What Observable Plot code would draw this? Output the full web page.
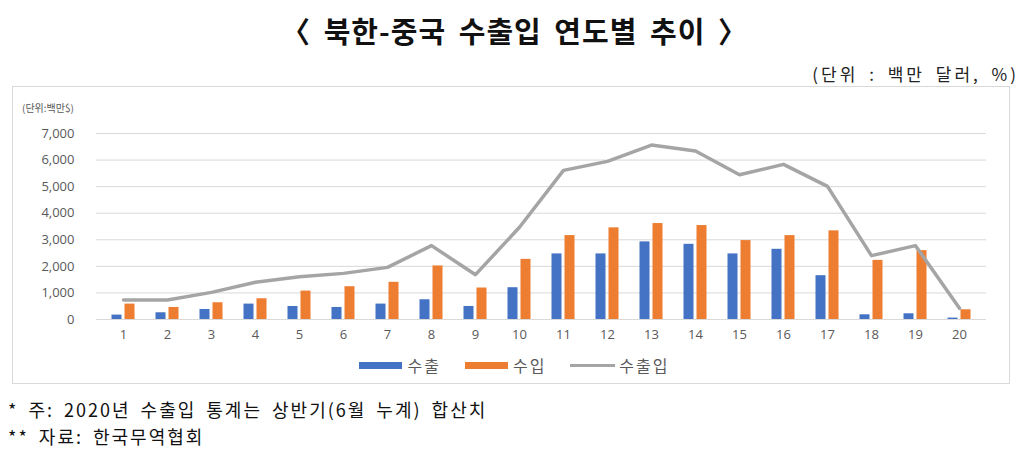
<!DOCTYPE html>
<html>
<head>
<meta charset="utf-8">
<script src="https://cdn.jsdelivr.net/npm/d3@7"></script>
<script src="https://cdn.jsdelivr.net/npm/@observablehq/plot@0.6"></script>
<style>
  html, body { margin: 0; padding: 0; background: #fff; }
  #wrap { position: relative; width: 1029px; height: 460px; overflow: hidden; font-family: "Noto Sans CJK KR", "Noto Sans", sans-serif; }
  #title { position: absolute; left: 0; width: 1029px; top: 9px; text-align: center; font-size: 29px; font-weight: 600; color: #111; letter-spacing: 1px; word-spacing: 5px; }
  #unit { position: absolute; right: 10px; top: 61px; font-size: 17px; color: #222; letter-spacing: 3px; word-spacing: 4px; }
  #box { position: absolute; left: 12px; top: 86px; width: 998px; height: 298px; border: 1px solid #d9d9d9; box-sizing: border-box; }
  #ylabel { position: absolute; left: 22px; top: 100px; font-size: 10px; color: #595959; }
  #chart { position: absolute; left: 0; top: 85px; }
  #legend { position: absolute; top: 353px; left: 0; width: 1029px; display: flex; justify-content: center; align-items: center; font-size: 16px; color: #595959; letter-spacing: 2px; }
  .item { display: flex; align-items: center; margin: 0 12px; }
  .sw { width: 43px; height: 7px; margin-right: 5px; }
  .ln { width: 45px; height: 3px; margin-right: 4px; }
  #notes { position: absolute; left: 8px; top: 396px; font-size: 18px; color: #111; line-height: 27px; letter-spacing: 2px; word-spacing: 4px; }
</style>
</head>
<body>
<div id="wrap">
  <div id="title">〈 북한-중국 수출입 연도별 추이 〉</div>
  <div id="unit">(단위 : 백만 달러, %)</div>
  <div id="box"></div>
  <div id="ylabel">(단위:백만$)</div>
  <div id="chart"></div>
  <div id="legend"></div>
  <div id="notes">* 주: 2020년 수출입 통계는 상반기(6월 누계) 합산치<br>** 자료: 한국무역협회</div>
</div>
<script>
const categories = ["1","2","3","4","5","6","7","8","9","10","11","12","13","14","15","16","17","18","19","20"];
const exportsV = [166, 253, 377, 580, 490, 453, 580, 743, 491, 1196, 2468, 2468, 2921, 2830, 2468, 2642, 1649, 177, 215, 53];
const importsV = [580, 453, 630, 780, 1070, 1234, 1400, 2015, 1185, 2264, 3158, 3449, 3611, 3536, 2970, 3158, 3336, 2226, 2592, 366];
const totalV = [732, 732, 1020, 1400, 1610, 1736, 1962, 2780, 1687, 3472, 5611, 5951, 6566, 6340, 5449, 5838, 5008, 2404, 2780, 420];
const yTicks = [0, 1000, 2000, 3000, 4000, 5000, 6000, 7000];
const seriesNames = ["수출", "수입", "수출입"];
const colors = ["#4472C4", "#ED7D31", "#A5A5A5"];

const rows = categories.map((c, i) => ({cat: c, exp: exportsV[i], imp: importsV[i], tot: totalV[i]}));

const chart = Plot.plot({
  width: 1029,
  height: 265,
  marginLeft: 96,
  marginRight: 43,
  marginTop: 48,
  marginBottom: 31,
  style: {fontFamily: "'Open Sans', 'Noto Sans', sans-serif", background: "transparent"},
  x: {type: "band", domain: categories, paddingInner: 0.775, paddingOuter: 0.3875},
  y: {domain: [0, 7000]},
  marks: [
    Plot.gridY(yTicks, {stroke: "#d9d9d9", strokeOpacity: 1, strokeWidth: 1}),
    Plot.axisY(yTicks, {tickSize: 0, tickPadding: 22, tickFormat: d3.format(","), fontSize: 13, color: "#595959", label: null}),
    Plot.axisX({tickSize: 0, tickPadding: 10, fontSize: 13, color: "#595959", label: null}),
    Plot.barY(rows, {x: "cat", y: "exp", fill: colors[0], dx: -6.5}),
    Plot.barY(rows, {x: "cat", y: "imp", fill: colors[1], dx: 6.5}),
    Plot.lineY(rows, {x: "cat", y: "tot", stroke: colors[2], strokeWidth: 3.5})
  ]
});
document.getElementById("chart").appendChild(chart);

const legend = document.getElementById("legend");
seriesNames.forEach((n, i) => {
  const it = document.createElement("div");
  it.className = "item";
  const sw = document.createElement("span");
  sw.className = i < 2 ? "sw" : "ln";
  sw.style.background = colors[i];
  it.appendChild(sw);
  const t = document.createElement("span");
  t.textContent = n;
  it.appendChild(t);
  legend.appendChild(it);
});
</script>
</body>
</html>
